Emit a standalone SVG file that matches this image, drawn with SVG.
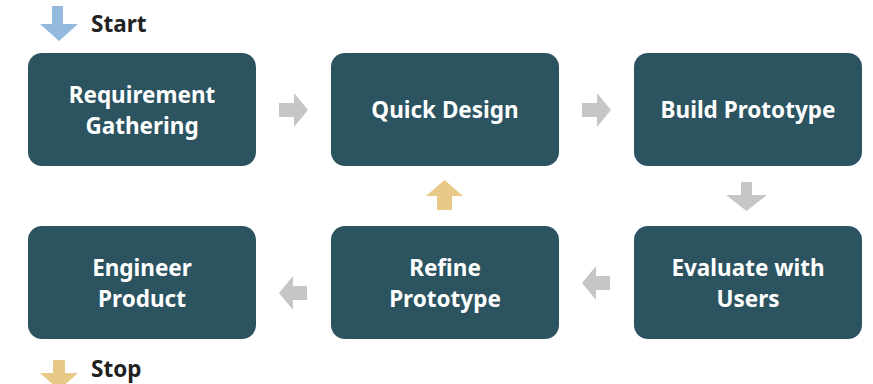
<svg xmlns="http://www.w3.org/2000/svg" width="873" height="384" viewBox="0 0 873 384">
<style>
.box{fill:#2b5360}
.t{font-family:"Noto Sans","Open Sans",sans-serif;font-weight:bold;font-size:22.5px;fill:#ffffff;text-anchor:middle}
.lbl{font-family:"Noto Sans","Open Sans",sans-serif;font-weight:bold;font-size:22.5px;fill:#222222}
.g{fill:#c6c6c8}
</style>
<rect width="873" height="384" fill="#ffffff"/>
<g id="start">
<path d="M52,6 H63 V24 H78 L59,41 L40,24 H52 Z" fill="#93badc"/>
<text class="lbl" x="91" y="32">Start</text>
</g>
<g id="stop">
<path d="M53,360 H65 V373 H78 L59,390 L40,373 H53 Z" fill="#e9c987"/>
<text class="lbl" x="91" y="377">Stop</text>
</g>
<g id="n1"><rect class="box" x="28" y="53" width="228" height="113" rx="14"/><text class="t" x="142" y="103">Requirement</text><text class="t" x="142" y="134">Gathering</text></g>
<g id="n2"><rect class="box" x="331" y="53" width="228" height="113" rx="14"/><text class="t" x="445" y="118">Quick Design</text></g>
<g id="n3"><rect class="box" x="634" y="53" width="228" height="113" rx="14"/><text class="t" x="748" y="118">Build Prototype</text></g>
<g id="n4"><rect class="box" x="634" y="226" width="228" height="113" rx="14"/><text class="t" x="748" y="276">Evaluate with</text><text class="t" x="748" y="307">Users</text></g>
<g id="n5"><rect class="box" x="331" y="226" width="228" height="113" rx="14"/><text class="t" x="445" y="276">Refine</text><text class="t" x="445" y="307">Prototype</text></g>
<g id="n6"><rect class="box" x="28" y="226" width="228" height="113" rx="14"/><text class="t" x="142" y="276">Engineer</text><text class="t" x="142" y="307">Product</text></g>
<g id="connectors">
<path class="g" d="M279,103 H294 V93 L308,110 L294,127 V117 H279 Z"/>
<path class="g" d="M582,103 H597 V93 L611,110 L597,127 V117 H582 Z"/>
<path class="g" d="M741,182 H752 V195 H767 L746.5,211 L726,195 H741 Z"/>
<path class="g" d="M610,276 H596 V266 L582,283 L596,300 V290 H610 Z"/>
<path class="g" d="M307,286 H293 V276 L279,293 L293,310 V300 H307 Z"/>
<path d="M437,210 H452 V196 H463 L444.5,180 L426,196 H437 Z" fill="#e9c987"/>
</g>
</svg>
